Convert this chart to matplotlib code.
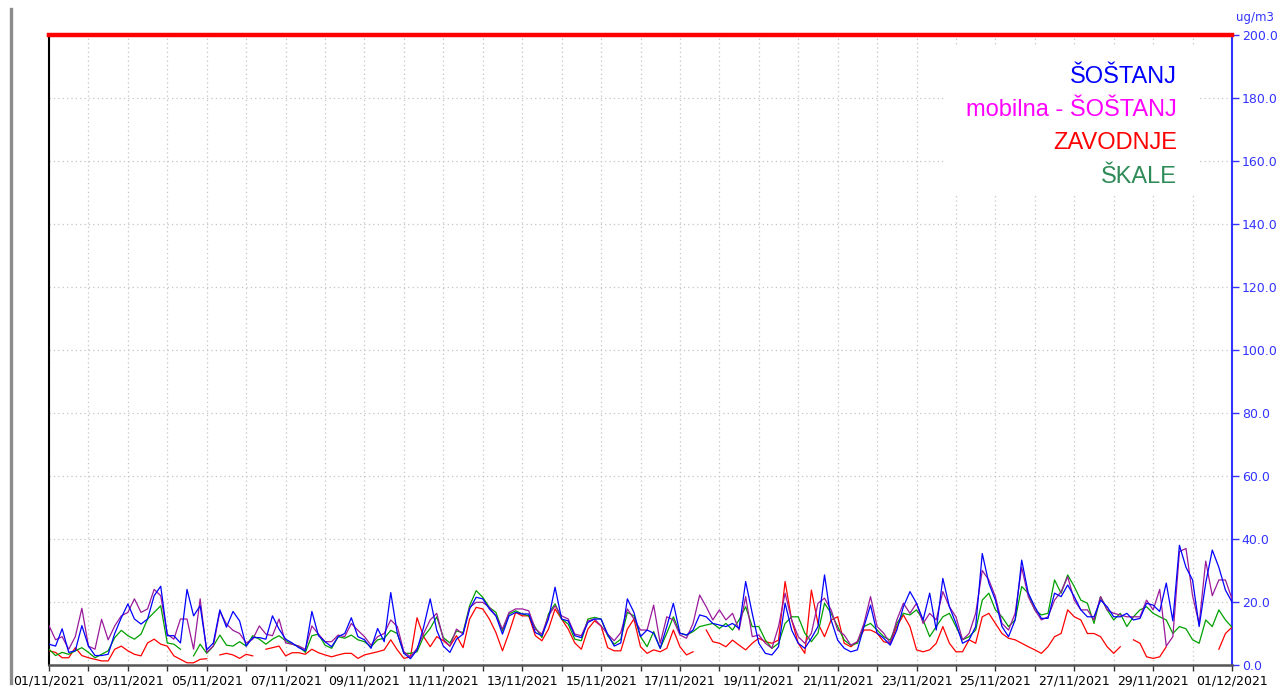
import numpy as np
import pandas as pd
import matplotlib
matplotlib.use("Agg")
import matplotlib.pyplot as plt
import matplotlib.dates as mdates
from matplotlib.lines import Line2D
from matplotlib.patches import Rectangle

nan = np.nan

# 4-hourly values (ug/m3), one row per day, 01/11/2021 .. 30/11/2021, plus 01/12 00:00
sostanj = [
    6.6, 6.0, 11.5, 4.0, 4.5, 12.5,
    6.0, 3.0, 3.0, 3.4, 10.0, 15.0,
    19.4, 14.6, 13.0, 14.6, 22.0, 25.0,
    9.3, 9.3, 7.0, 24.0, 15.6, 18.8,
    4.8, 7.0, 17.5, 12.0, 17.0, 14.0,
    6.0, 8.7, 8.7, 8.2, 15.6, 11.4,
    8.2, 7.0, 5.5, 4.5, 17.0, 9.3,
    7.4, 5.8, 9.0, 10.0, 15.0, 9.0,
    8.0, 5.3, 11.6, 7.4, 23.0, 10.0,
    3.7, 2.0, 4.8, 12.0, 21.0, 11.0,
    6.0, 4.0, 8.2, 9.8, 17.8, 21.5,
    21.0, 17.8, 15.6, 9.8, 15.6, 16.7,
    16.2, 16.2, 10.3, 9.3, 14.6, 24.7,
    14.6, 14.0, 9.3, 8.7, 13.5, 14.6,
    14.6, 9.8, 6.0, 7.0, 21.0, 16.7,
    9.0, 11.1, 10.1, 5.3, 12.2, 19.6,
    10.1, 9.5, 11.1, 15.9, 15.3, 13.2,
    12.7, 12.2, 13.2, 11.6, 26.5, 16.4,
    6.9, 3.7, 3.2, 5.8, 19.6, 11.1,
    6.9, 5.3, 8.5, 12.2, 28.6, 14.3,
    7.9, 5.3, 4.2, 4.8, 12.2, 19.0,
    10.1, 8.5, 6.3, 11.1, 18.5, 23.3,
    19.6, 14.3, 22.8, 11.1, 27.5, 18.5,
    13.2, 6.9, 8.0, 12.2, 35.4, 26.0,
    20.6, 12.2, 9.0, 14.3, 33.3, 22.8,
    18.5, 14.8, 14.8, 22.8, 21.7, 25.4,
    21.7, 17.5, 15.3, 15.3, 20.6, 18.5,
    15.3, 15.3, 16.4, 14.3, 14.8, 19.6,
    19.0, 17.0, 26.0, 14.0, 38.0, 31.0,
    27.0, 12.2, 26.0, 36.5, 31.0, 23.8,
    20.0,
]
mobilna = [
    12.5, 8.0, 9.0, 5.0, 9.0, 18.0,
    6.0, 5.0, 14.5, 8.0, 12.4, 15.6,
    16.7, 21.0, 16.7, 17.8, 24.0, 22.0,
    9.8, 8.2, 14.6, 14.6, 5.0, 21.0,
    4.0, 6.0, 17.0, 13.0, 11.0, 10.0,
    7.0, 8.2, 12.4, 9.8, 9.3, 14.6,
    7.0, 6.6, 6.0, 5.0, 12.4, 9.8,
    7.4, 7.4, 9.5, 9.0, 13.2, 11.0,
    9.0, 6.3, 9.0, 10.0, 14.3, 12.2,
    4.2, 2.6, 5.3, 10.0, 14.3, 16.4,
    8.2, 6.0, 11.4, 9.8, 18.3, 19.9,
    19.9, 18.3, 15.6, 11.4, 16.7, 17.8,
    17.8, 17.2, 11.4, 9.8, 15.6, 18.8,
    15.6, 14.6, 9.8, 9.3, 14.0, 14.6,
    12.4, 9.8, 7.7, 10.3, 17.8, 14.6,
    11.1, 11.1, 19.0, 6.9, 15.3, 14.3,
    9.5, 8.5, 13.2, 22.2, 18.5, 14.3,
    17.5, 14.3, 16.4, 11.1, 21.7, 9.0,
    9.5, 6.9, 5.3, 12.2, 22.8, 14.3,
    9.0, 6.9, 10.1, 19.6, 21.2, 17.5,
    11.1, 9.5, 6.3, 7.4, 13.2, 21.7,
    12.2, 10.1, 6.9, 14.3, 19.6, 16.4,
    19.6, 13.2, 16.4, 14.3, 23.3, 18.5,
    15.3, 8.0, 10.0, 16.4, 30.0, 27.0,
    21.7, 13.2, 11.1, 16.4, 31.0, 21.7,
    17.5, 14.3, 15.3, 20.6, 23.3, 28.0,
    20.6, 17.5, 17.5, 14.3, 21.7, 17.5,
    16.4, 15.9, 15.3, 15.3, 15.3, 20.6,
    17.5, 24.0, 6.0, 9.0, 36.0, 37.0,
    22.0, 13.0, 33.0, 22.0, 27.0, 27.0,
    21.0,
]
zavodnje = [
    4.5, 4.0, 2.3, 2.3, 5.5, 3.0,
    2.3, 1.8, 1.3, 1.3, 5.0, 6.0,
    4.5, 3.4, 2.9, 7.0, 8.2, 6.6,
    6.0, 2.9, 1.8, 0.7, 0.7, 1.8,
    2.0, nan, 3.2, 3.7, 3.2, 2.1,
    3.4, 2.9, nan, 5.0, 5.5, 6.0,
    2.9, 3.9, 3.9, 3.4, 5.0, 3.9,
    3.2, 2.6, 3.2, 3.7, 3.7, 2.1,
    3.2, 3.7, 4.2, 4.8, 8.0, 4.8,
    2.1, 2.6, 15.0, 9.0, 5.8, 9.0,
    7.7, 6.0, 9.3, 5.5, 14.6, 18.3,
    17.8, 14.6, 10.3, 4.5, 10.3, 16.7,
    15.6, 15.6, 9.3, 7.7, 11.4, 17.8,
    14.6, 11.4, 7.0, 5.0, 11.4, 14.0,
    12.4, 5.5, 4.5, 4.5, 11.4, 14.6,
    5.8, 3.7, 4.8, 4.2, 5.3, 11.1,
    5.8, 3.2, 4.2, nan, 11.1, 7.4,
    6.9, 5.8, 7.9, 6.3, 4.8, 6.9,
    8.5, 7.4, 6.9, 7.9, 26.5, 14.3,
    6.9, 3.7, 23.8, 13.2, 9.0, 14.3,
    15.3, 6.9, 5.8, 7.4, 11.1, 11.1,
    10.1, 7.4, 6.9, 12.2, 15.9, 12.2,
    4.8, 4.2, 4.8, 6.9, 12.2, 6.9,
    4.2, 4.2, 8.0, 6.9, 15.3, 16.4,
    13.2, 10.0, 8.5, 8.0, 6.9, 5.8,
    4.8, 3.7, 5.8, 9.0, 10.0, 17.5,
    15.3, 14.3, 10.0, 10.0, 9.0, 5.8,
    3.7, 5.8, nan, 8.0, 6.9, 2.6,
    2.1, 2.6, 5.8, nan, 3.2, nan,
    nan, nan, nan, nan, 5.0, 10.0,
    12.0,
]
skale = [
    5.0, 3.0, 4.0, 3.4, 4.5, 5.5,
    4.0, 2.3, 3.4, 4.5, 8.7, 11.0,
    9.3, 8.2, 9.8, 14.6, 16.7, 18.8,
    7.0, 6.6, 5.0, nan, 2.9, 6.6,
    3.7, 6.0, 9.5, 6.3, 6.0, 7.4,
    6.0, 9.3, 8.2, 6.6, 8.2, 9.3,
    7.7, 6.6, 6.0, 4.0, 9.3, 9.8,
    6.3, 5.3, 9.0, 8.5, 9.5, 8.0,
    7.4, 5.8, 8.0, 8.5, 11.0, 10.0,
    3.7, 3.7, 4.2, 9.0, 11.6, 15.3,
    8.7, 7.0, 10.8, 10.3, 18.8, 23.6,
    21.5, 18.3, 16.7, 10.8, 16.2, 17.2,
    16.2, 15.6, 11.9, 8.7, 16.2, 19.4,
    14.6, 13.0, 8.2, 7.7, 14.6, 15.1,
    14.6, 9.3, 6.6, 8.2, 16.7, 15.6,
    9.0, 5.8, 10.6, 5.3, 10.1, 15.3,
    10.1, 9.5, 10.6, 12.2, 12.7, 13.2,
    11.6, 13.2, 11.1, 14.3, 18.5, 12.2,
    12.2, 7.9, 5.3, 6.9, 13.2, 15.3,
    15.3, 10.1, 7.4, 10.1, 19.6, 16.4,
    12.2, 7.9, 6.3, 6.9, 12.2, 13.2,
    11.1, 9.0, 7.9, 13.2, 16.4, 15.9,
    17.5, 14.3, 9.0, 12.2, 15.3, 16.4,
    12.2, 8.0, 9.0, 11.1, 20.6, 22.8,
    17.5, 15.3, 12.2, 14.3, 24.9, 22.8,
    17.5, 15.9, 16.4, 27.0, 22.8, 28.6,
    24.9, 20.6, 19.6, 13.2, 21.7, 17.5,
    14.3, 16.4, 12.2, 15.3, 17.5, 18.5,
    16.4, 15.3, 14.3, 10.0, 12.2, 11.5,
    8.0, 6.9, 14.3, 12.2, 17.5, 14.3,
    12.0,
]

series_names = ["ŠOŠTANJ", "mobilna - ŠOŠTANJ", "ZAVODNJE", "ŠKALE"]
legend_colors = ["#0000ff", "#ff00ff", "#ff0000", "#2e8b57"]
line_colors = ["#0000ff", "#9a1a9a", "#ff0000", "#00a000"]
limit_value = 200

times = pd.date_range("2021-11-01 00:00", "2021-12-01 00:00", freq="4h")

fig = plt.figure(figsize=(12.78, 6.90), dpi=100)
ax = fig.add_axes([49 / 1278, 1 - 665 / 690, (1232 - 49) / 1278, (665 - 35) / 690])

data = [sostanj, mobilna, zavodnje, skale]
order = [2, 3, 1, 0]  # red, green, purple, blue on top
for z, i in enumerate(order):
    ax.plot(times, data[i], color=line_colors[i], lw=0.9, zorder=3 + z)

ax.set_xlim(times[0], times[-1])
ax.set_ylim(0, 200)

# limit line
ax.axhline(limit_value, color="#ff0000", lw=3.2, clip_on=False, zorder=10)

# axes styling
ax.yaxis.tick_right()
ax.set_yticks(np.arange(0, 201, 20))
ax.set_yticklabels([f"{v:.1f}" for v in np.arange(0, 201, 20)])
ax.tick_params(axis="y", colors="#3333ff", labelsize=9, length=5, width=1, pad=2)

days = pd.date_range("2021-11-01", "2021-12-01", freq="D")
ax.set_xticks(mdates.date2num(days))
ax.set_xticklabels([d.strftime("%d/%m/%Y") if k % 2 == 0 else "" for k, d in enumerate(days)])
ax.tick_params(axis="x", colors="#333333", labelcolor="black", labelsize=9, length=4, width=1, pad=3)

ax.grid(True, color="#c4c4c4", linestyle=(0, (1, 2.5)), lw=0.9)
ax.set_axisbelow(True)

ax.spines["top"].set_visible(False)
ax.spines["left"].set_color("black")
ax.spines["left"].set_linewidth(1.5)
ax.spines["right"].set_color("#3333ff")
ax.spines["right"].set_linewidth(1.5)
ax.spines["bottom"].set_color("#555555")
ax.spines["bottom"].set_linewidth(1.8)

# white box behind the legend text (hides the grid there)
ax.add_patch(Rectangle((945 / 1278, 1 - 195 / 690), 253 / 1278, 150 / 690,
                       transform=fig.transFigure, facecolor="white",
                       edgecolor="none", zorder=2, clip_on=False))

baselines = [83, 116, 149, 183]
for name, col, yb in zip(series_names, legend_colors, baselines):
    fig.text(1177 / 1278, 1 - yb / 690, name, color=col, fontsize=17,
             family="Liberation Sans", ha="right", va="baseline", zorder=11)

fig.text(1255 / 1278, 1 - 17 / 690, "ug/m3", color="#3333ff", fontsize=8.5,
         ha="center", va="center")

# grey bar at the left edge
fig.add_artist(Line2D([10.5 / 1278, 10.5 / 1278], [0.01, 1 - 9 / 690],
                      color="#8c8c8c", lw=2.4, transform=fig.transFigure))

fig.savefig("out.png", dpi=100)
